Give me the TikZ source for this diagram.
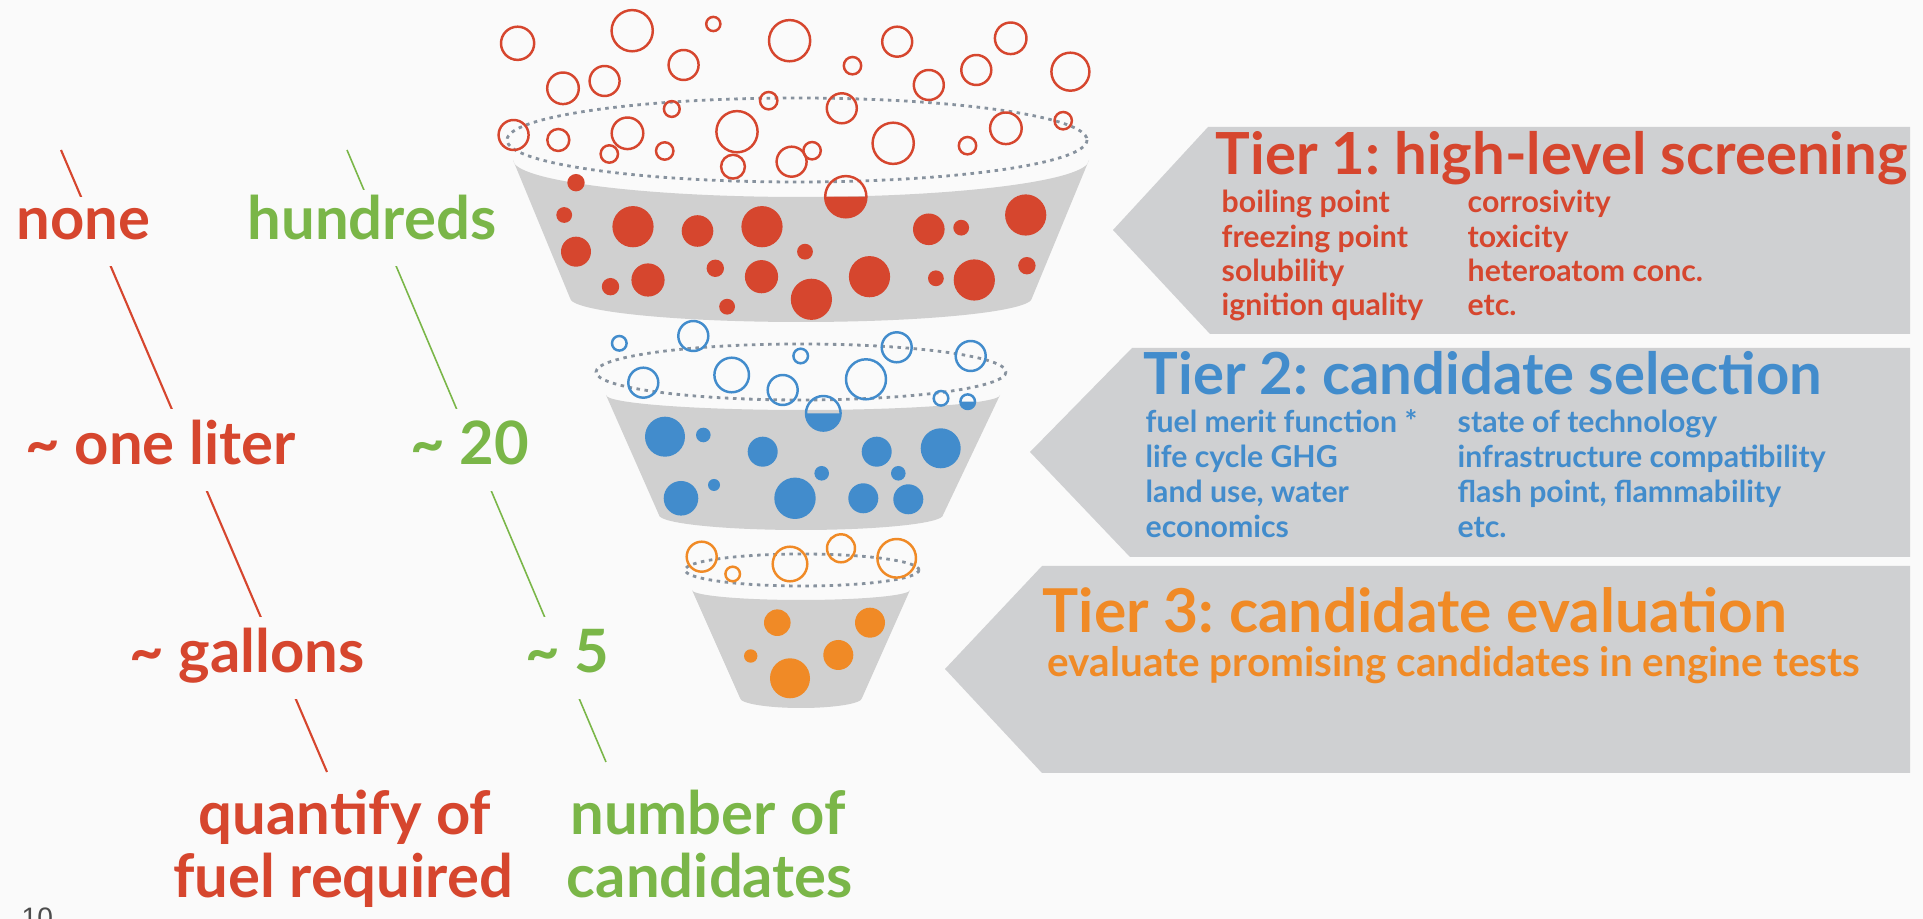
\documentclass[tikz,border=0pt]{standalone}
\usepackage{fontspec}
\setmainfont{Lato}
\newfontfamily\pagefont{Liberation Sans}
\usetikzlibrary{positioning}
\frenchspacing
\definecolor{tred}{RGB}{214,70,46}
\definecolor{tgreen}{RGB}{122,182,72}
\definecolor{tblue}{RGB}{66,140,204}
\definecolor{torange}{RGB}{240,138,38}
\definecolor{funnel}{RGB}{208,208,208}
\definecolor{panel}{RGB}{207,208,210}
\definecolor{rim}{RGB}{135,146,158}
\definecolor{bg}{RGB}{250,250,250}
\tikzset{
  bubble/.style={line width=0.7pt},
  rimline/.style={rim, line width=0.8pt, dash pattern=on 1pt off 1.3pt},
  scale label/.style={font=\fontsize{17}{20}\selectfont\bfseries, fill=bg, inner sep=0pt,
    text height=0.56cm, text depth=0.26cm, anchor=base west},
  axis title/.style={font=\fontsize{17}{20}\selectfont\bfseries, inner sep=0pt, anchor=base},
  tier title/.style={font=\fontsize{16.5}{20}\selectfont\bfseries, inner sep=0pt, anchor=base west},
  tier item/.style={font=\fontsize{8.6}{10}\selectfont\bfseries, inner sep=0pt, anchor=base west},
  tier note/.style={font=\fontsize{11.5}{14}\selectfont\bfseries, inner sep=0pt, anchor=base west}
}
\begin{document}
\begin{tikzpicture}[x=0.01cm, y=-0.01cm]
  \useasboundingbox (0,0) rectangle (1923,919);
  \clip (0,0) rectangle (1923,919);
  \fill[bg] (0,0) rectangle (1923,919);

  \coordinate (qtop) at (61,150);
  \coordinate (qend) at (327,772);
  \coordinate (ntop) at (347,150);
  \coordinate (nend) at (606,762);
  \draw[tred, line width=0.6pt] (qtop) -- (qend);
  \draw[tgreen, line width=0.45pt] (ntop) -- (nend);

  \node[scale label, text=tred, text height=0.43cm] (none) at (16,240) {none};
  \node[scale label, text=tgreen, text height=0.5cm] (hundreds) at (247,240) {hundreds};
  \node[scale label, text=tred] (liter) at (25,465) {\textasciitilde{} one liter};
  \node[scale label, text=tgreen] (twenty) at (410,465) {\textasciitilde{} 20};
  \node[scale label, text=tred] (gallons) at (129,673) {\textasciitilde{} gallons};
  \node[scale label, text=tgreen] (five) at (525,673) {\textasciitilde{} 5};
  \node[axis title, text=tred] (qty) at (345,835) {quantify of};
  \node[axis title, text=tred] (fuel) at (343,898) {fuel required};
  \node[axis title, text=tgreen] (num) at (708,835) {number of};
  \node[axis title, text=tgreen] (cand) at (710,898) {candidates};
  \node[font=\pagefont\fontsize{8}{9}\selectfont, text=black!70, inner sep=0pt, anchor=north west] (page) at (21,907) {10};

  \fill[funnel] (513,160) arc[start angle=180, end angle=0, x radius=288, y radius=37]
    -- (1032,298) arc[start angle=0, end angle=180, x radius=231, y radius=24] -- cycle;
  \fill[funnel] (606,395) arc[start angle=180, end angle=0, x radius=197, y radius=15]
    -- (943,515) arc[start angle=0, end angle=180, x radius=142, y radius=15] -- cycle;
  \fill[funnel] (692,590) arc[start angle=180, end angle=0, x radius=109, y radius=10]
    -- (862,698) arc[start angle=0, end angle=180, x radius=61, y radius=10] -- cycle;
  \draw[rimline] (797,140) ellipse[x radius=290, y radius=42];
  \draw[rimline] (801,372) ellipse[x radius=205, y radius=28];
  \draw[rimline] (802,570) ellipse[x radius=117, y radius=16];

  \foreach \x/\y/\r in {517.6/43.3/16.6, 632.2/30.7/20.6, 713.3/24/7.1, 789.6/40.7/20.6,
      897.2/41.7/15, 1010.7/38.3/15.8, 683.6/65/15, 563/88.3/15.8, 604.6/81/15,
      852.5/65.7/8.7, 928.8/85/15, 976.3/70/15, 1070.4/71.7/19, 768.7/100.7/8.7,
      671.8/109/7.9, 841.8/108.3/15, 513.6/135/15, 558.3/140/11, 627.5/133.3/15.8,
      609.3/154/8.7, 664.7/151/8.7, 737/131.7/20.6, 733/166.7/11.9, 791.6/161.7/15,
      812.1/150.7/8.7, 893.2/143.3/20.6, 967.5/145.7/8.7, 1005.9/128.3/15.8, 1063.2/120.7/8.7}
    \draw[bubble, tred] (\x,\y) circle[radius=\r];
  \foreach \x/\y/\r in {576/182.7/8.7, 564.2/215/7.9, 633/226.7/20.6, 697.5/231/15.8,
      762/226.7/20.6, 928.8/229.3/15.8, 961.2/227.7/7.9, 1025.7/215/20.6, 576/251.7/15,
      648/280/16.6, 610.5/286.7/8.7, 715.3/268.3/8.7, 761.5/276.7/16.6, 805/251.7/7.9,
      811.4/299.3/20.6, 869.5/276.7/20.6, 727.1/306.7/7.9, 935.9/278.3/7.9,
      974.3/280/20.6, 1026.9/265.7/8.7}
    \fill[tred] (\x,\y) circle[radius=\r];
  \draw[bubble, tred] (845.8,196.7) circle[radius=20.6];
  \fill[tred] (866.4,196.7) arc[start angle=0, end angle=180, radius=20.6] -- cycle;

  \foreach \x/\y/\r in {619.3/343.3/7.3, 693.3/336/15, 800.7/356/7.3, 896.7/347.3/15,
      970.7/356/15, 643.3/382.7/15, 731.7/375/17.3, 782.7/390/15, 866/379.3/20, 941/398.3/7.3}
    \draw[bubble, tblue] (\x,\y) circle[radius=\r];
  \foreach \x/\y/\r in {665/436.7/20, 703.3/435/7.3, 762.7/451.7/15, 876.7/451.7/15,
      940.7/448.3/20, 681/498.3/17.3, 714/485/6, 795/498.3/20.7, 821.7/473.3/7.3,
      863.3/498.3/15, 898.3/473.3/7.3, 908.3/499.3/15}
    \fill[tblue] (\x,\y) circle[radius=\r];
  \foreach \x/\y/\r in {823.3/413.3/17.3, 967.7/401.7/7.3} {
    \draw[bubble, tblue] (\x,\y) circle[radius=\r];
    \fill[tblue] (\x+\r,\y) arc[start angle=0, end angle=180, radius=\r] -- cycle;
  }

  \foreach \x/\y/\r in {701.7/556.7/15, 732.7/574/7.3, 790/564/17.3, 841/548.3/14, 896.7/558.3/19.3}
    \draw[bubble, torange] (\x,\y) circle[radius=\r];
  \foreach \x/\y/\r in {777.3/622.7/13.3, 870/622.7/15, 750.7/656/6.7, 838.3/655/15, 790/678.3/20}
    \fill[torange] (\x,\y) circle[radius=\r];

  \fill[panel] (1113,230) -- (1208,127) -- (1910,127) -- (1910,334) -- (1210,334) -- cycle;
  \fill[panel] (1030,452) -- (1132,348) -- (1910,348) -- (1910,557) -- (1130,557) -- cycle;
  \fill[panel] (945,669) -- (1042,566) -- (1910,566) -- (1910,773) -- (1042,773) -- cycle;

  \node[tier title, text=tred] (tier1) at (1215,175) {Tier 1: high-level screening};
  \foreach \txt [count=\i] in {boiling point, freezing point, solubility, ignition quality}
    \node[tier item, text=tred] (t1a\i) at (1221,{213+34.3*(\i-1)}) {\txt};
  \foreach \txt [count=\i] in {corrosivity, toxicity, heteroatom conc., etc.}
    \node[tier item, text=tred] (t1b\i) at (1467,{213+34.3*(\i-1)}) {\txt};

  \node[tier title, text=tblue] (tier2) at (1143,395) {Tier 2: candidate selection};
  \foreach \txt [count=\i] in {fuel merit function *, life cycle GHG, {land use, water}, economics}
    \node[tier item, text=tblue] (t2a\i) at (1145,{433+35*(\i-1)}) {\txt};
  \foreach \txt [count=\i] in {state of technology, infrastructure compatibility, {flash point, flammability}, etc.}
    \node[tier item, text=tblue] (t2b\i) at (1457,{433+35*(\i-1)}) {\txt};

  \node[tier title, text=torange, font=\fontsize{17.2}{20}\selectfont\bfseries] (tier3) at (1042,633) {Tier 3: candidate evaluation};
  \node[tier note, text=torange] (t3a) at (1047,677) {evaluate promising candidates in engine tests};
\end{tikzpicture}
\end{document}
